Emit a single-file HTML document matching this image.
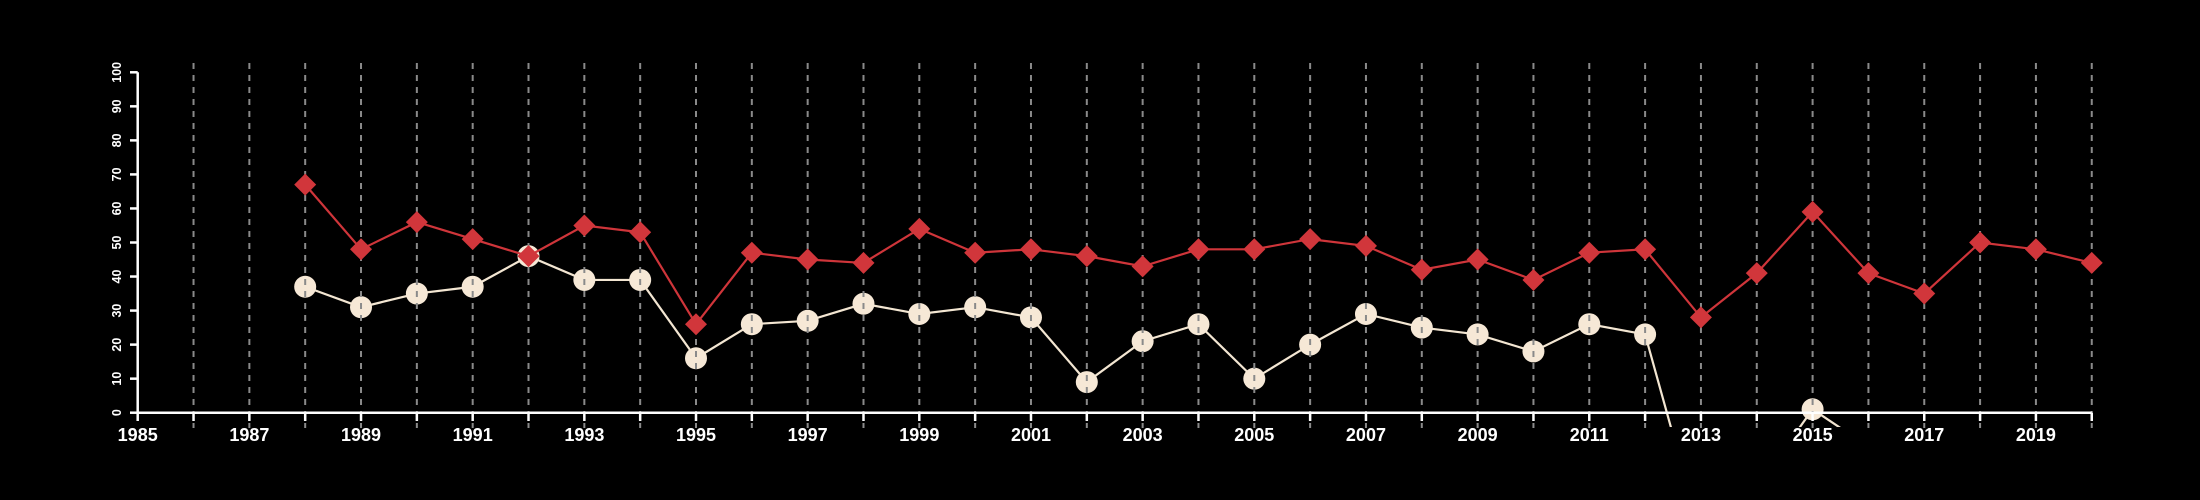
<!DOCTYPE html>
<html><head><meta charset="utf-8"><style>
html,body{margin:0;padding:0;background:#000;width:2200px;height:500px;overflow:hidden}
svg{display:block;overflow:hidden}
text{font-family:"Liberation Sans",Arial,sans-serif;fill:#fff}
</style></head><body>
<svg id="chart" width="2200" height="500" viewBox="0 0 2200 500">
<defs><clipPath id="plotclip"><rect x="100" y="58" width="2030" height="369"/></clipPath></defs>
<g id="white-layer" clip-path="url(#plotclip)"></g>
<g id="grid-layer"></g>
<g id="red-layer" clip-path="url(#plotclip)"></g>
<g id="axis-layer"></g>
</svg>
<script>
const years = [1988,1989,1990,1991,1992,1993,1994,1995,1996,1997,1998,1999,2000,2001,2002,2003,2004,2005,2006,2007,2008,2009,2010,2011,2012,2013,2014,2015,2016,2017,2018,2019,2020];
const redValues = [67,48,56,51,46,55,53,26,47,45,44,54,47,48,46,43,48,48,51,49,42,45,39,47,48,28,41,59,41,35,50,48,44];
const whiteValues = [37,31,35,37,46,39,39,16,26,27,32,29,31,28,9,21,26,10,20,29,25,23,18,26,23,-36,-22,1,-10,null,null,null,null];
const yTicks = [0,10,20,30,40,50,60,70,80,90,100];
const xTickYears = [1985,1986,1987,1988,1989,1990,1991,1992,1993,1994,1995,1996,1997,1998,1999,2000,2001,2002,2003,2004,2005,2006,2007,2008,2009,2010,2011,2012,2013,2014,2015,2016,2017,2018,2019,2020];
const xLabelYears = [1985,1987,1989,1991,1993,1995,1997,1999,2001,2003,2005,2007,2009,2011,2013,2015,2017,2019];

const NS = "http://www.w3.org/2000/svg";
const X = y => 137.7 + (y - 1985) * 55.83;
const Y = v => 412.7 - v * 3.404;
function mk(tag, attrs, parent){const e=document.createElementNS(NS,tag);for(const k in attrs)e.setAttribute(k,attrs[k]);parent.appendChild(e);return e;}
const wl=document.getElementById('white-layer'),gl=document.getElementById('grid-layer'),rl=document.getElementById('red-layer'),al=document.getElementById('axis-layer');

let pts=[];const segs=[];
years.forEach((yr,i)=>{const v=whiteValues[i];if(v===null){if(pts.length)segs.push(pts);pts=[];}else pts.push(X(yr)+','+Y(v));});
if(pts.length)segs.push(pts);
segs.forEach(s=>{const p=mk('polyline',{points:s.join(' '),fill:'none',stroke:'#f3e6d2','stroke-width':2.2},wl);

});
years.forEach((yr,i)=>{const v=whiteValues[i];if(v===null)return;
const c=mk('circle',{cx:X(yr),cy:Y(v),r:11,fill:'#f6e8d6'},wl);

});

xTickYears.slice(1).forEach(yr=>{const l=mk('line',{x1:X(yr),x2:X(yr),y1:63,y2:428,stroke:'#8a8a8a','stroke-width':2,'stroke-dasharray':'6,6'},gl);

});

const rp=mk('polyline',{points:years.map((yr,i)=>X(yr)+','+Y(redValues[i])).join(' '),fill:'none',stroke:'#cf353a','stroke-width':2.2},rl);


years.forEach((yr,i)=>{const cx=X(yr),cy=Y(redValues[i]),d=11;
const p=mk('polygon',{points:`${cx},${cy-d} ${cx+d},${cy} ${cx},${cy+d} ${cx-d},${cy}`,fill:'#d1363b'},rl);

});

const xa=mk('line',{x1:X(1985),x2:X(2020),y1:412.7,y2:412.7,stroke:'#fff','stroke-width':2.5},al);


const ya=mk('line',{x1:137.7,x2:137.7,y1:Y(0),y2:Y(100),stroke:'#fff','stroke-width':2.5},al);


xTickYears.forEach(yr=>{const t=mk('line',{x1:X(yr),x2:X(yr),y1:412.7,y2:421,stroke:'#fff','stroke-width':2.5},al);

});
xLabelYears.forEach(yr=>{const t=mk('text',{x:X(yr),y:441,'text-anchor':'middle','font-size':18,'font-weight':'bold'},al);t.textContent=yr;

});
yTicks.forEach(v=>{const t=mk('line',{x1:130,x2:137.7,y1:Y(v),y2:Y(v),stroke:'#fff','stroke-width':2.5},al);


const tx=mk('text',{x:0,y:0,transform:`translate(121,${Y(v)}) rotate(-90)`,'text-anchor':'middle','font-size':12.5,'font-weight':'bold'},al);tx.textContent=v;

});
</script>
</body></html>
